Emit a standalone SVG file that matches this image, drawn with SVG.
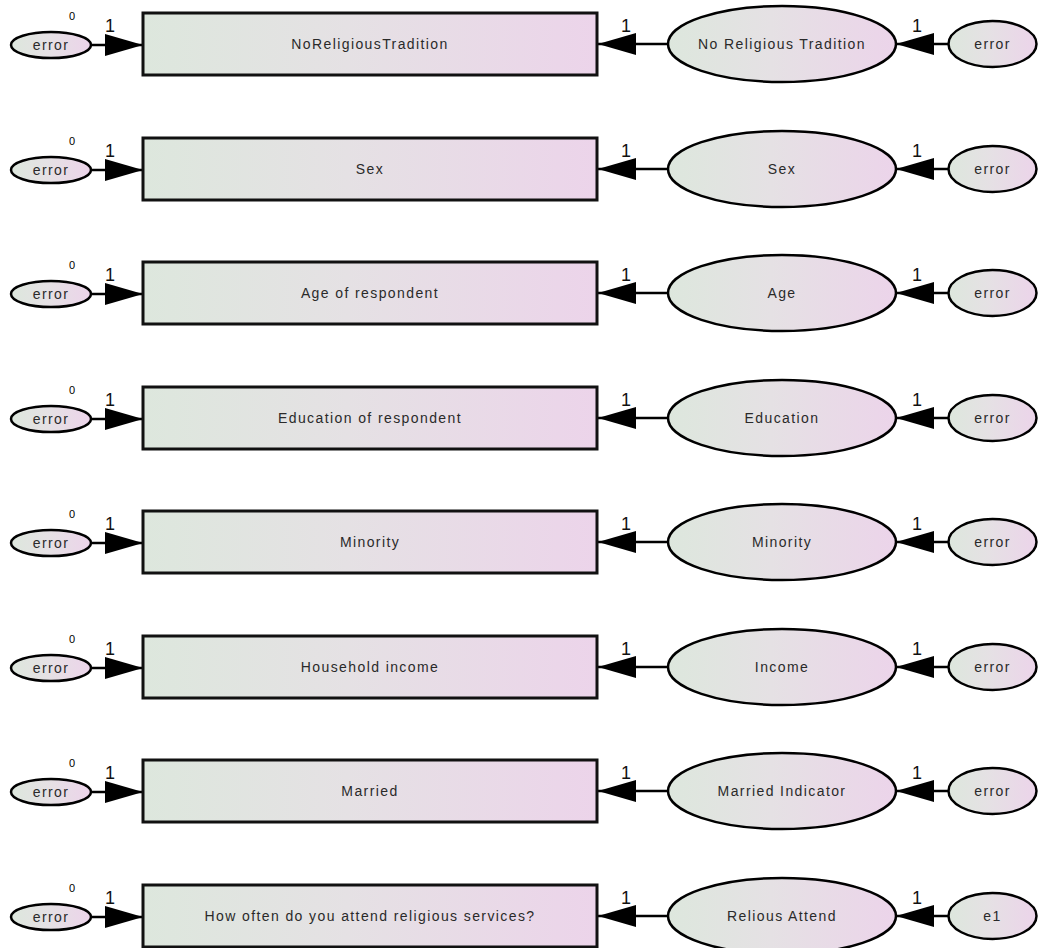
<svg xmlns="http://www.w3.org/2000/svg" width="1038" height="948" viewBox="0 0 1038 948">
<defs>
<linearGradient id="g" x1="0" y1="0" x2="1" y2="0">
<stop offset="0" stop-color="#dde7dd"/>
<stop offset="0.45" stop-color="#e5e1e4"/>
<stop offset="1" stop-color="#ecd4ea"/>
</linearGradient>
<marker id="ah" markerUnits="userSpaceOnUse" markerWidth="38" markerHeight="22" viewBox="0 0 38 22" refX="38" refY="11" orient="auto">
<path d="M0,0 L38,11 L0,22 z" fill="#000"/>
</marker>
<style>
.box{fill:url(#g);stroke:#111;stroke-width:3}
.ell{fill:url(#g);stroke:#000;stroke-width:2.5}
.t{font-family:"Liberation Sans",Arial,sans-serif;font-size:14px;letter-spacing:1.4px;fill:#2a2a2a;text-anchor:middle}
.one{font-family:"Liberation Sans",Arial,sans-serif;font-size:18px;fill:#111;text-anchor:middle}
.zero{font-family:"Liberation Sans",Arial,sans-serif;font-size:11px;fill:#000;text-anchor:middle}
.c{stroke:#000;stroke-width:2.5;fill:none;marker-end:url(#ah)}
</style>
</defs>

<g id="connectors">
<path class="c" d="M91,45 L143,45"/><path class="c" d="M668,44 L598,44"/><path class="c" d="M948,44 L896,44"/>
<path class="c" d="M91,170 L143,170"/><path class="c" d="M668,169 L598,169"/><path class="c" d="M948,169 L896,169"/>
<path class="c" d="M91,294 L143,294"/><path class="c" d="M668,293 L598,293"/><path class="c" d="M948,293 L896,293"/>
<path class="c" d="M91,419 L143,419"/><path class="c" d="M668,418 L598,418"/><path class="c" d="M948,418 L896,418"/>
<path class="c" d="M91,543 L143,543"/><path class="c" d="M668,542 L598,542"/><path class="c" d="M948,542 L896,542"/>
<path class="c" d="M91,668 L143,668"/><path class="c" d="M668,667 L598,667"/><path class="c" d="M948,667 L896,667"/>
<path class="c" d="M91,792 L143,792"/><path class="c" d="M668,791 L598,791"/><path class="c" d="M948,791 L896,791"/>
<path class="c" d="M91,917 L143,917"/><path class="c" d="M668,916 L598,916"/><path class="c" d="M948,916 L896,916"/>
<text class="one" x="110" y="32">1</text><text class="one" x="626" y="32">1</text><text class="one" x="917" y="32">1</text>
<text class="one" x="110" y="157">1</text><text class="one" x="626" y="157">1</text><text class="one" x="917" y="157">1</text>
<text class="one" x="110" y="281">1</text><text class="one" x="626" y="281">1</text><text class="one" x="917" y="281">1</text>
<text class="one" x="110" y="406">1</text><text class="one" x="626" y="406">1</text><text class="one" x="917" y="406">1</text>
<text class="one" x="110" y="530">1</text><text class="one" x="626" y="530">1</text><text class="one" x="917" y="530">1</text>
<text class="one" x="110" y="655">1</text><text class="one" x="626" y="655">1</text><text class="one" x="917" y="655">1</text>
<text class="one" x="110" y="779">1</text><text class="one" x="626" y="779">1</text><text class="one" x="917" y="779">1</text>
<text class="one" x="110" y="904">1</text><text class="one" x="626" y="904">1</text><text class="one" x="917" y="904">1</text>
</g>

<g id="err_obs_1"><ellipse class="ell" cx="51" cy="45" rx="40" ry="13"/><text class="t" x="51" y="50">error</text><text class="zero" x="72" y="20">0</text></g>
<g id="obs_1"><rect class="box" x="143" y="13" width="454" height="62"/><text class="t" x="370" y="49">NoReligiousTradition</text></g>
<g id="lat_1"><ellipse class="ell" cx="782" cy="44" rx="114" ry="38"/><text class="t" x="782" y="49">No Religious Tradition</text></g>
<g id="err_lat_1"><ellipse class="ell" cx="992.5" cy="44" rx="44" ry="23"/><text class="t" x="992.5" y="49">error</text></g>

<g id="err_obs_2"><ellipse class="ell" cx="51" cy="170" rx="40" ry="13"/><text class="t" x="51" y="175">error</text><text class="zero" x="72" y="145">0</text></g>
<g id="obs_2"><rect class="box" x="143" y="138" width="454" height="62"/><text class="t" x="370" y="174">Sex</text></g>
<g id="lat_2"><ellipse class="ell" cx="782" cy="169" rx="114" ry="38"/><text class="t" x="782" y="174">Sex</text></g>
<g id="err_lat_2"><ellipse class="ell" cx="992.5" cy="169" rx="44" ry="23"/><text class="t" x="992.5" y="174">error</text></g>

<g id="err_obs_3"><ellipse class="ell" cx="51" cy="294" rx="40" ry="13"/><text class="t" x="51" y="299">error</text><text class="zero" x="72" y="269">0</text></g>
<g id="obs_3"><rect class="box" x="143" y="262" width="454" height="62"/><text class="t" x="370" y="298">Age of respondent</text></g>
<g id="lat_3"><ellipse class="ell" cx="782" cy="293" rx="114" ry="38"/><text class="t" x="782" y="298">Age</text></g>
<g id="err_lat_3"><ellipse class="ell" cx="992.5" cy="293" rx="44" ry="23"/><text class="t" x="992.5" y="298">error</text></g>

<g id="err_obs_4"><ellipse class="ell" cx="51" cy="419" rx="40" ry="13"/><text class="t" x="51" y="424">error</text><text class="zero" x="72" y="394">0</text></g>
<g id="obs_4"><rect class="box" x="143" y="387" width="454" height="62"/><text class="t" x="370" y="423">Education of respondent</text></g>
<g id="lat_4"><ellipse class="ell" cx="782" cy="418" rx="114" ry="38"/><text class="t" x="782" y="423">Education</text></g>
<g id="err_lat_4"><ellipse class="ell" cx="992.5" cy="418" rx="44" ry="23"/><text class="t" x="992.5" y="423">error</text></g>

<g id="err_obs_5"><ellipse class="ell" cx="51" cy="543" rx="40" ry="13"/><text class="t" x="51" y="548">error</text><text class="zero" x="72" y="518">0</text></g>
<g id="obs_5"><rect class="box" x="143" y="511" width="454" height="62"/><text class="t" x="370" y="547">Minority</text></g>
<g id="lat_5"><ellipse class="ell" cx="782" cy="542" rx="114" ry="38"/><text class="t" x="782" y="547">Minority</text></g>
<g id="err_lat_5"><ellipse class="ell" cx="992.5" cy="542" rx="44" ry="23"/><text class="t" x="992.5" y="547">error</text></g>

<g id="err_obs_6"><ellipse class="ell" cx="51" cy="668" rx="40" ry="13"/><text class="t" x="51" y="673">error</text><text class="zero" x="72" y="643">0</text></g>
<g id="obs_6"><rect class="box" x="143" y="636" width="454" height="62"/><text class="t" x="370" y="672">Household income</text></g>
<g id="lat_6"><ellipse class="ell" cx="782" cy="667" rx="114" ry="38"/><text class="t" x="782" y="672">Income</text></g>
<g id="err_lat_6"><ellipse class="ell" cx="992.5" cy="667" rx="44" ry="23"/><text class="t" x="992.5" y="672">error</text></g>

<g id="err_obs_7"><ellipse class="ell" cx="51" cy="792" rx="40" ry="13"/><text class="t" x="51" y="797">error</text><text class="zero" x="72" y="767">0</text></g>
<g id="obs_7"><rect class="box" x="143" y="760" width="454" height="62"/><text class="t" x="370" y="796">Married</text></g>
<g id="lat_7"><ellipse class="ell" cx="782" cy="791" rx="114" ry="38"/><text class="t" x="782" y="796">Married Indicator</text></g>
<g id="err_lat_7"><ellipse class="ell" cx="992.5" cy="791" rx="44" ry="23"/><text class="t" x="992.5" y="796">error</text></g>

<g id="err_obs_8"><ellipse class="ell" cx="51" cy="917" rx="40" ry="13"/><text class="t" x="51" y="922">error</text><text class="zero" x="72" y="892">0</text></g>
<g id="obs_8"><rect class="box" x="143" y="885" width="454" height="62"/><text class="t" x="370" y="921">How often do you attend religious services?</text></g>
<g id="lat_8"><ellipse class="ell" cx="782" cy="916" rx="114" ry="38"/><text class="t" x="782" y="921">Relious Attend</text></g>
<g id="err_lat_8"><ellipse class="ell" cx="992.5" cy="916" rx="44" ry="23"/><text class="t" x="992.5" y="921">e1</text></g>
</svg>
